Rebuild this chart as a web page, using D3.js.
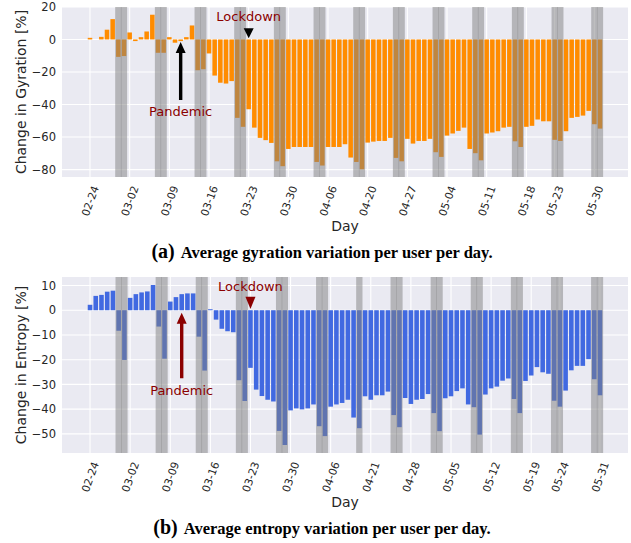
<!DOCTYPE html>
<html>
<head>
<meta charset="utf-8">
<script src="https://cdn.jsdelivr.net/npm/d3@7"></script>
<style>
  body { margin: 0; background: #fff; }
  svg text { font-family: 'DejaVu Sans', sans-serif; fill: #262626; }
  svg .caption { font-family: 'Liberation Serif', serif; font-weight: bold; fill: #000; }
</style>
</head>
<body>
<div id="chart"></div>
<script>
// days of the study period, some days have no data
const firstDay = '2020-02-24';
const lastDay = '2020-05-31';
const gyrationMissing = ['04-07', '04-08', '04-09', '04-10', '04-11', '04-12', '04-13'];
const entropyMissing = ['04-07', '04-08', '04-09', '04-10', '04-11', '04-12', '04-13', '04-18'];

const gyrationValues = [
  1.0, 0, 1.6, 6.0, 12.5, -10.7, -10.2, 4.3, -1.0, 1.4,
  4.9, 15.2, -8.2, -8.2, 1.4, -2.0, -1.0, 1.4, 8.6, -18.9,
  -18.3, -8.6, -22.2, -26.6, -27.1, -25.6, -48.2, -53.7, -42.9, -54.2,
  -60.5, -61.9, -63.6, -74.9, -77.9, -67.3, -66.1, -66.1, -66.1, -66.1,
  -75.3, -77.5, -66.1, -66.1, -66.1, -64.4, -72.6, -75.3, -79.8, -63.4,
  -62.8, -62.4, -62.4, -60.5, -72.8, -74.9, -61.1, -64.0, -62.4, -62.4,
  -61.1, -69.3, -72.2, -59.1, -57.8, -56.2, -54.2, -67.3, -69.9, -74.3,
  -57.8, -57.2, -56.4, -54.2, -53.7, -62.6, -66.1, -53.7, -53.1, -49.2,
  -50.3, -50.3, -61.7, -62.4, -56.4, -48.2, -47.6, -46.8, -43.9, -52.1, -54.8
];

const entropyValues = [
  2.2, 5.8, 6.2, 7.5, 7.9, -8.3, -20.1, 5.0, 6.5, 7.2,
  7.6, 10.2, -6.6, -19.6, 3.5, 5.3, 6.5, 6.8, 6.8, -10.7,
  -24.4, 0.4, -3.8, -7.5, -8.5, -8.9, -28.3, -36.7, -23.3, -32.1,
  -34.7, -36.2, -36.9, -48.8, -54.5, -40.5, -39.7, -40.1, -39.7, -38.1,
  -46.9, -50.9, -39.0, -38.1, -37.5, -36.2, -43.4, -47.7, -34.8, -36.2,
  -34.4, -34.4, -32.9, -42.4, -47.3, -35.5, -37.9, -36.2, -35.9, -33.9,
  -41.6, -48.9, -35.6, -34.8, -32.7, -31.6, -38.1, -39.2, -50.3, -34.1,
  -31.6, -30.9, -28.5, -27.6, -35.9, -41.6, -28.6, -26.4, -23.0, -25.1,
  -25.7, -36.6, -39.0, -32.5, -24.3, -22.5, -22.5, -19.8, -27.9, -34.4
];

const gyrationTicks = ['02-24', '03-02', '03-09', '03-16', '03-23', '03-30', '04-06',
  '04-20', '04-27', '05-04', '05-11', '05-18', '05-23', '05-30'];
const entropyTicks = ['02-24', '03-02', '03-09', '03-16', '03-23', '03-30', '04-06',
  '04-21', '04-28', '05-05', '05-12', '05-19', '05-24', '05-31'];
const gyrationYTicks = [20, 0, -20, -40, -60, -80];
const entropyYTicks = [10, 0, -10, -20, -30, -40, -50];

const pandemicDay = '03-11';
const lockdownDay = '03-23';

const width = 631, height = 543;
const svg = d3.select('#chart').append('svg')
  .attr('width', width).attr('height', height);

const parseDay = d3.timeParse('%Y-%m-%d');
const fmtDay = d3.timeFormat('%m-%d');

function dayList(missing) {
  return d3.timeDay.range(parseDay(firstDay), d3.timeDay.offset(parseDay(lastDay), 1))
    .filter(d => !missing.includes(fmtDay(d)));
}

function drawPanel(cfg) {
  const left = 62, right = 628;
  const n = cfg.values.length;
  const pad = 0.05 * (n - 0.2);
  const x = d3.scaleLinear().domain([-0.4 - pad, n - 0.6 + pad]).range([left, right]);
  const lo = d3.min(cfg.values), hi = d3.max(cfg.values);
  const y = d3.scaleLinear()
    .domain([lo - 0.05 * (hi - lo), hi + 0.05 * (hi - lo)])
    .range([cfg.bottom, cfg.top]);
  const labels = cfg.days.map(fmtDay);
  const g = svg.append('g');

  g.append('rect')
    .attr('x', left).attr('y', cfg.top)
    .attr('width', right - left).attr('height', cfg.bottom - cfg.top)
    .attr('fill', '#eaeaf2');

  // grid
  g.append('g').selectAll('line').data(cfg.yTicks).join('line')
    .attr('x1', left).attr('x2', right)
    .attr('y1', d => y(d)).attr('y2', d => y(d))
    .attr('stroke', '#fff').attr('stroke-width', 1.1);
  const tickIdx = cfg.xTicks.map(t => labels.indexOf(t));
  g.append('g').selectAll('line').data(tickIdx).join('line')
    .attr('x1', d => x(d)).attr('x2', d => x(d))
    .attr('y1', cfg.top).attr('y2', cfg.bottom)
    .attr('stroke', '#fff').attr('stroke-width', 1.1);

  // bars
  g.append('g').selectAll('rect').data(cfg.values).join('rect')
    .attr('x', (d, i) => x(i - 0.4))
    .attr('width', (d, i) => x(i + 0.4) - x(i - 0.4))
    .attr('y', d => y(Math.max(0, d)))
    .attr('height', d => Math.abs(y(d) - y(0)))
    .attr('fill', cfg.color);

  // weekends
  const weekend = cfg.days.map((d, i) => [d.getDay(), i])
    .filter(([wd]) => wd === 0 || wd === 6).map(([, i]) => i);
  g.append('g').selectAll('rect').data(weekend).join('rect')
    .attr('x', d => x(d - 0.55))
    .attr('width', d => x(d + 0.55) - x(d - 0.55))
    .attr('y', cfg.top).attr('height', cfg.bottom - cfg.top)
    .attr('fill', '#808080').attr('fill-opacity', 0.5);

  // axes
  const yAxis = d3.axisLeft(y).tickValues(cfg.yTicks).tickSize(0).tickPadding(6);
  const ya = g.append('g').attr('transform', `translate(${left},0)`).call(yAxis);
  ya.select('.domain').remove();
  ya.selectAll('text').attr('font-size', 11.5).attr('font-family', null).attr('fill', '#262626');

  const xAxis = d3.axisBottom(x).tickValues(tickIdx).tickFormat(i => labels[i]).tickSize(0);
  const xa = g.append('g').attr('transform', `translate(0,${cfg.bottom})`).call(xAxis);
  xa.select('.domain').remove();
  xa.selectAll('text')
    .attr('y', null).attr('dy', null)
    .attr('transform', 'translate(0,24) rotate(-70)')
    .attr('text-anchor', 'middle').attr('dominant-baseline', 'central')
    .attr('font-size', 10.8).attr('font-family', null).attr('fill', '#262626');

  g.append('text')
    .attr('transform', `translate(21,${(cfg.top + cfg.bottom) / 2}) rotate(-90)`)
    .attr('text-anchor', 'middle').attr('dominant-baseline', 'central')
    .attr('font-size', 14).text(cfg.yLabel);
  g.append('text')
    .attr('x', (left + right) / 2).attr('y', cfg.bottom + 54)
    .attr('text-anchor', 'middle').attr('font-size', 14).text('Day');

  // annotations
  const px = x(labels.indexOf(pandemicDay));
  const tip = y(cfg.pandemic.tip), tail = y(cfg.pandemic.tail);
  g.append('path')
    .attr('d', `M${px - 1.7},${tail} L${px - 1.7},${tip + 11} L${px - 5},${tip + 11} L${px},${tip}
                L${px + 5},${tip + 11} L${px + 1.7},${tip + 11} L${px + 1.7},${tail} Z`)
    .attr('fill', cfg.arrowColor);
  g.append('text')
    .attr('x', px).attr('y', y(cfg.pandemic.text))
    .attr('text-anchor', 'middle').attr('font-size', 13)
    .style('fill', '#8b0000').text('Pandemic');

  const lx = x(labels.indexOf(lockdownDay));
  const ltip = y(cfg.lockdown.tip), lbase = y(cfg.lockdown.base);
  g.append('path')
    .attr('d', `M${lx - 5},${lbase} L${lx + 5},${lbase} L${lx},${ltip} Z`)
    .attr('fill', cfg.arrowColor);
  g.append('text')
    .attr('x', lx).attr('y', y(cfg.lockdown.text))
    .attr('text-anchor', 'middle').attr('font-size', 13)
    .style('fill', '#8b0000').text('Lockdown');

  // caption
  const cap = g.append('text').attr('class', 'caption')
    .attr('x', 322).attr('y', cfg.captionY).attr('text-anchor', 'middle');
  cap.append('tspan').attr('font-size', 20).text(cfg.tag);
  cap.append('tspan').attr('font-size', 16.5).attr('dx', 6).text(cfg.caption);
}

drawPanel({
  days: dayList(gyrationMissing), values: gyrationValues,
  xTicks: gyrationTicks, yTicks: gyrationYTicks,
  top: 7, bottom: 177, color: '#ff8c00', arrowColor: '#000',
  yLabel: 'Change in Gyration [%]',
  pandemic: { tip: -1.5, tail: -37.2, text: -46.8 },
  lockdown: { tip: 0.7, base: 6.9, text: 11.4 },
  tag: '(a)', caption: 'Average gyration variation per user per day.', captionY: 258
});

drawPanel({
  days: dayList(entropyMissing), values: entropyValues,
  xTicks: entropyTicks, yTicks: entropyYTicks,
  top: 277, bottom: 453, color: '#4169e1', arrowColor: '#8b0000',
  yLabel: 'Change in Entropy [%]',
  pandemic: { tip: -1.0, tail: -27.5, text: -34.4 },
  lockdown: { tip: 0.5, base: 5.4, text: 7.6 },
  tag: '(b)', caption: 'Average entropy variation per user per day.', captionY: 534
});
</script>
</body>
</html>
